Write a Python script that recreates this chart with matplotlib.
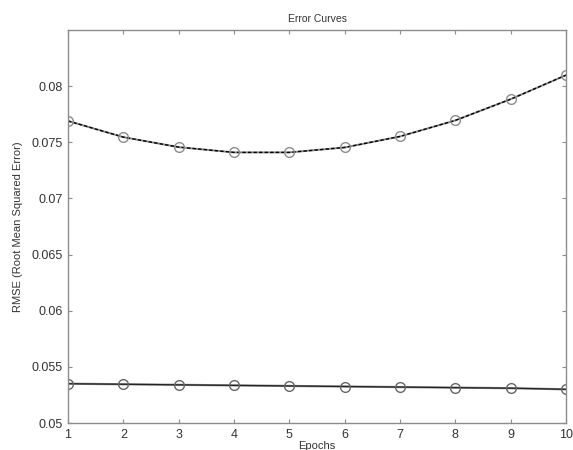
import matplotlib
matplotlib.use("Agg")
import matplotlib.pyplot as plt

plt.rcParams['font.family'] = ['Liberation Sans', 'DejaVu Sans']

# datos de las curvas de error
epocas = [1, 2, 3, 4, 5, 6, 7, 8, 9, 10]
error_validacion = [0.0769, 0.07546, 0.07457, 0.0741, 0.0741, 0.07454, 0.07552, 0.07695, 0.07884, 0.08098]
error_entrenamiento = [0.0535, 0.05345, 0.0534, 0.05335, 0.0533, 0.05325, 0.0532, 0.05315, 0.0531, 0.0530]
yticks = [0.05, 0.055, 0.06, 0.065, 0.07, 0.075, 0.08]
ytick_labels = ['0.05', '0.055', '0.06', '0.065', '0.07', '0.075', '0.08']

fig = plt.figure(figsize=(5.73, 4.5), dpi=100)
ax = fig.add_axes([0.1187, 0.06, 0.8691, 0.8733])

gris = '#8c8c8c'

# curva de validacion: linea gris con trazo negro discontinuo encima
ax.plot(epocas, error_validacion, color=gris, lw=1.4)
ax.plot(epocas, error_validacion, color='black', lw=1.0, ls=(0, (2.5, 1.5)),
        marker='o', ms=7, mfc='none', mec=gris, mew=1.0)

# curva de entrenamiento
ax.plot(epocas, error_entrenamiento, color=gris, lw=1.6)
ax.plot(epocas, error_entrenamiento, color='#222222', lw=0.9,
        marker='o', ms=7, mfc='none', mec='#666666', mew=1.0)

ax.set_xlim(1, 10)
ax.set_ylim(0.05, 0.085)
ax.set_xticks(epocas)
ax.set_yticks(yticks)
ax.set_yticklabels(ytick_labels)

for s in ax.spines.values():
    s.set_color(gris)
    s.set_linewidth(1.0)
ax.tick_params(direction='in', top=True, right=True, length=3, color=gris,
               labelsize=9, labelcolor='#333333', pad=4)

ax.set_title('Error Curves', fontsize=7.5, color='#333333', pad=6)
ax.set_xlabel('Epochs', fontsize=8, color='#333333', labelpad=0)
ax.set_ylabel('RMSE (Root Mean Squared Error)', fontsize=8, color='#333333', labelpad=6)

fig.savefig('out.png', dpi=100)
